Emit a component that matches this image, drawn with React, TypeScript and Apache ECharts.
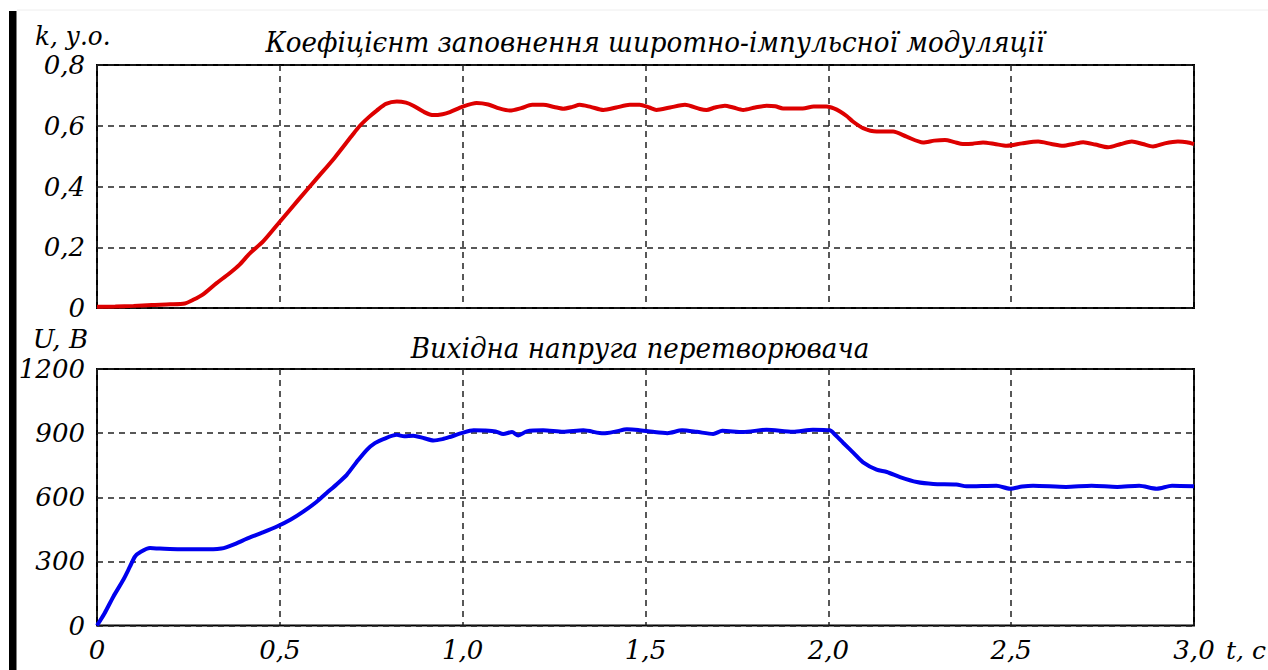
import React, { useEffect, useRef } from "react";
import * as echarts from "echarts";

// Top chart: PWM duty coefficient k (r.u.)
const kTime = [
  0, 0.05, 0.1, 0.15, 0.2, 0.24, 0.263, 0.29, 0.327, 0.36, 0.39, 0.418, 0.455, 0.5, 0.55, 0.6, 0.65, 0.7, 0.719,
  0.745, 0.765, 0.79, 0.82, 0.845, 0.865, 0.895, 0.92, 0.945, 0.965, 1.0, 1.038, 1.07, 1.1, 1.129, 1.16, 1.19,
  1.22, 1.25, 1.275, 1.3, 1.32, 1.35, 1.385, 1.42, 1.457, 1.484, 1.51, 1.53, 1.567, 1.608, 1.649, 1.667, 1.69,
  1.717, 1.74, 1.767, 1.8, 1.831, 1.855, 1.876, 1.93, 1.96, 1.995, 2.015, 2.032, 2.05, 2.067, 2.095, 2.132,
  2.177, 2.214, 2.259, 2.29, 2.319, 2.345, 2.368, 2.395, 2.423, 2.455, 2.488, 2.53, 2.574, 2.61, 2.642, 2.67,
  2.697, 2.73, 2.765, 2.8, 2.83, 2.86, 2.888, 2.92, 2.956, 2.98, 3.0,
];
const kValues = [
  0.004, 0.005, 0.007, 0.01, 0.012, 0.015, 0.027, 0.045, 0.082, 0.112, 0.143, 0.18, 0.22, 0.284, 0.355, 0.425,
  0.495, 0.572, 0.6, 0.63, 0.65, 0.672, 0.68, 0.676, 0.666, 0.645, 0.635, 0.638, 0.645, 0.663, 0.675, 0.67,
  0.657, 0.65, 0.658, 0.669, 0.669, 0.662, 0.656, 0.662, 0.669, 0.662, 0.652, 0.66, 0.669, 0.669, 0.66, 0.652,
  0.66, 0.669, 0.655, 0.652, 0.66, 0.666, 0.66, 0.652, 0.66, 0.666, 0.664, 0.657, 0.657, 0.663, 0.663, 0.657,
  0.647, 0.632, 0.614, 0.592, 0.581, 0.581, 0.564, 0.545, 0.551, 0.553, 0.546, 0.54, 0.541, 0.545, 0.54, 0.534,
  0.542, 0.548, 0.54, 0.534, 0.54, 0.546, 0.538, 0.529, 0.54, 0.548, 0.54, 0.532, 0.542, 0.548, 0.546, 0.54,
];

// Bottom chart: converter output voltage U (V)
const uTime = [
  0, 0.02, 0.045, 0.072, 0.09, 0.104, 0.12, 0.145, 0.172, 0.227, 0.318, 0.34, 0.355, 0.38, 0.41, 0.45, 0.492,
  0.53, 0.565, 0.6, 0.628, 0.655, 0.683, 0.71, 0.738, 0.76, 0.783, 0.82, 0.84, 0.865, 0.895, 0.92, 0.945, 0.965,
  0.997, 1.03, 1.06, 1.09, 1.111, 1.135, 1.152, 1.175, 1.22, 1.275, 1.33, 1.385, 1.42, 1.449, 1.48, 1.52, 1.56,
  1.6, 1.64, 1.685, 1.71, 1.767, 1.831, 1.903, 1.958, 2.004, 2.02, 2.041, 2.07, 2.095, 2.132, 2.16, 2.196,
  2.242, 2.287, 2.35, 2.378, 2.46, 2.497, 2.53, 2.56, 2.65, 2.72, 2.79, 2.85, 2.898, 2.94, 3.0,
];
const uValues = [
  0, 55, 136, 214, 275, 323, 345, 362, 360, 357, 357, 360, 367, 383, 406, 433, 463, 496, 534, 578, 620, 660,
  705, 765, 822, 853, 872, 892, 885, 888, 876, 866, 872, 882, 900, 913, 912, 908, 896, 905, 889, 908, 913, 906,
  913, 899, 908, 918, 915, 906, 900, 913, 906, 896, 911, 905, 916, 907, 916, 913, 890, 854, 805, 763, 729, 718,
  694, 671, 662, 660, 651, 654, 640, 650, 654, 648, 654, 648, 654, 640, 654, 651,
];

const kTicks = { min: 0, max: 0.8, interval: 0.2 };
const uTicks = { min: 0, max: 1200, interval: 300 };
const tTicks = { min: 0, max: 3, interval: 0.5 };

const topTitle = "Коефіцієнт заповнення широтно-імпульсної модуляції";
const bottomTitle = "Вихідна напруга перетворювача";
const kUnit = "k, у.о.";
const uUnit = "U, В";
const tUnit = "t, с";

const FONT = "DejaVu Serif";

const commaFmt = (v: number) => (v === 0 ? "0" : v.toFixed(1).replace(".", ","));
const plainFmt = (v: number) => String(Math.round(v));

export default function App() {
  const ref = useRef<HTMLDivElement>(null);
  useEffect(() => {
    if (!ref.current) return;
    const chart = echarts.init(ref.current, null, { renderer: "svg" });
    const gridLine = { show: true, lineStyle: { color: "#222", width: 1.5, type: [6, 5] as any } };
    const labelStyle = {
      fontFamily: FONT,
      fontStyle: "italic" as const,
      fontSize: 26,
      color: "#000",
    };
    const txt = (text: string, x: number, y: number, align: string, size = 26, sx = 1) => ({
      type: "text",
      x,
      y,
      scaleX: sx,
      style: {
        text,
        fill: "#000",
        fontFamily: FONT,
        fontStyle: "italic",
        fontSize: size,
        textAlign: align,
        textVerticalAlign: "middle",
      },
    });
    chart.setOption({
      animation: false,
      backgroundColor: "#fff",
      grid: [
        { left: 97, top: 65, width: 1097, height: 243, show: true, borderColor: "#000", borderWidth: 2 },
        { left: 97, top: 369, width: 1097, height: 256.5, show: true, borderColor: "#000", borderWidth: 2 },
      ],
      xAxis: [
        {
          gridIndex: 0,
          type: "value",
          ...tTicks,
          axisLine: { show: false },
          axisTick: { show: false },
          axisLabel: { show: false },
          splitLine: gridLine,
        },
        {
          gridIndex: 1,
          type: "value",
          ...tTicks,
          axisLine: { show: false },
          axisTick: { show: false },
          axisLabel: { ...labelStyle, margin: 11, formatter: commaFmt },
          splitLine: gridLine,
        },
      ],
      yAxis: [
        {
          gridIndex: 0,
          type: "value",
          ...kTicks,
          axisLine: { show: false },
          axisTick: { show: false },
          axisLabel: { ...labelStyle, margin: 12, formatter: commaFmt },
          splitLine: gridLine,
        },
        {
          gridIndex: 1,
          type: "value",
          ...uTicks,
          axisLine: { show: false },
          axisTick: { show: false },
          axisLabel: { ...labelStyle, margin: 12, formatter: plainFmt },
          splitLine: gridLine,
        },
      ],
      series: [
        {
          type: "line",
          xAxisIndex: 0,
          yAxisIndex: 0,
          data: kTime.map((t, i) => [t, kValues[i]]),
          showSymbol: false,
          smooth: 0.25,
          lineStyle: { color: "#dd0000", width: 4 },
        },
        {
          type: "line",
          xAxisIndex: 1,
          yAxisIndex: 1,
          data: uTime.map((t, i) => [t, uValues[i]]),
          showSymbol: false,
          smooth: 0.25,
          lineStyle: { color: "#0000ee", width: 4 },
        },
      ],
      graphic: [
        { type: "rect", shape: { x: 9, y: 11, width: 7.5, height: 659 }, style: { fill: "#000" } },
        { type: "line", shape: { x1: 17, y1: 10, x2: 1268, y2: 10 }, style: { stroke: "#eeeeee", lineWidth: 1 } },
        txt(kUnit, 35, 36, "left", 26, 0.95),
        txt(topTitle, 655, 42, "center", 27, 0.97),
        txt(uUnit, 88, 339, "right", 26, 1),
        txt(bottomTitle, 640, 348, "center", 27, 0.97),
        txt(tUnit, 1226, 650, "left", 25, 1),
      ],
    });
    return () => chart.dispose();
  }, []);
  return (
    <div
      ref={ref}
      style={{ position: "fixed", left: 0, top: 0, width: 1268, height: 670, background: "#fff" }}
    />
  );
}
